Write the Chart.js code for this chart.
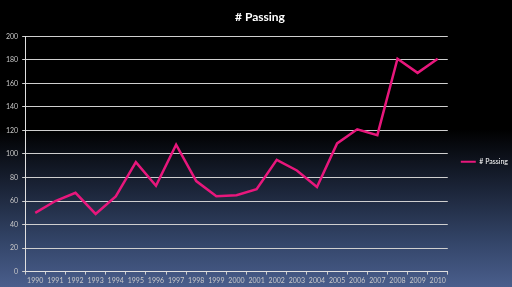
<!DOCTYPE html>
<html>
<head>
<meta charset="utf-8">
<script src="https://cdn.jsdelivr.net/npm/chart.js@4"></script>
<style>
  html, body { margin: 0; padding: 0; }
  #wrap {
    width: 512px; height: 287px;
    background: linear-gradient(to bottom, #000000 0%, #000000 45%, #1a2336 65%, #34466a 85%, #4a5e8c 100%);
  }
</style>
</head>
<body>
<div id="wrap"><canvas id="passingChart" width="512" height="287"></canvas></div>
<script>
const years = ['1990', '1991', '1992', '1993', '1994', '1995', '1996', '1997', '1998', '1999', '2000',
  '2001', '2002', '2003', '2004', '2005', '2006', '2007', '2008', '2009', '2010'];
const passing = [50, 60, 67, 49, 64, 93, 73, 108, 77, 64, 65, 70, 95, 86, 72, 109, 121, 116, 181, 169, 181];
const seriesName = '# Passing';

const lineColor = '#e8177c';

const ctx = document.getElementById('passingChart').getContext('2d');
const passingChart = new Chart(ctx, {
  type: 'line',
  data: {
    labels: years,
    datasets: [
      {
        label: seriesName,
        data: passing,
        borderColor: lineColor,
        backgroundColor: lineColor,
        borderWidth: 2.5,
        pointRadius: 0,
        tension: 0,
        fill: false
      }
    ]
  },
  options: {
    responsive: false,
    animation: false,
    layout: { padding: { left: 2, right: -6, top: 0, bottom: 0 } },
    plugins: {
      title: {
        display: true,
        text: '# Passing',
        color: '#ffffff',
        font: { family: 'Lato', size: 12, weight: 'bold' },
        padding: { top: 10, bottom: 12 }
      },
      legend: {
        position: 'right',
        // empty title just pushes the single item a bit lower
        title: {
          display: true,
          text: ' ',
          font: { family: 'Lato', size: 7 },
          padding: { top: 0, bottom: 28 }
        },
        labels: {
          color: '#ffffff',
          font: { family: 'Lato', size: 7 },
          boxWidth: 15,
          boxHeight: 2,
          padding: 13,
          // thin line sample instead of an outlined box
          generateLabels: function (chart) {
            return chart.data.datasets.map(function (ds, i) {
              return {
                text: ds.label,
                fillStyle: ds.borderColor,
                strokeStyle: ds.borderColor,
                lineWidth: 0,
                fontColor: '#ffffff',
                hidden: false,
                datasetIndex: i
              };
            });
          }
        }
      },
      tooltip: { enabled: false }
    },
    scales: {
      x: {
        offset: true,
        grid: {
          offset: true,
          drawOnChartArea: false,
          color: '#d0d0d0',
          tickLength: 3
        },
        border: { color: '#e0e0e0', width: 1 },
        ticks: {
          color: '#c8c8c8',
          font: { family: 'Lato', size: 7 },
          autoSkip: false,
          maxRotation: 0,
          minRotation: 0,
          padding: 2
        }
      },
      y: {
        min: 0,
        max: 200,
        grid: {
          color: '#cfcfcf',
          lineWidth: 1,
          tickLength: 3
        },
        border: { color: '#e0e0e0', width: 1 },
        ticks: {
          stepSize: 20,
          color: '#c8c8c8',
          font: { family: 'Lato', size: 7 },
          padding: 4
        }
      }
    }
  }
});
</script>
</body>
</html>
